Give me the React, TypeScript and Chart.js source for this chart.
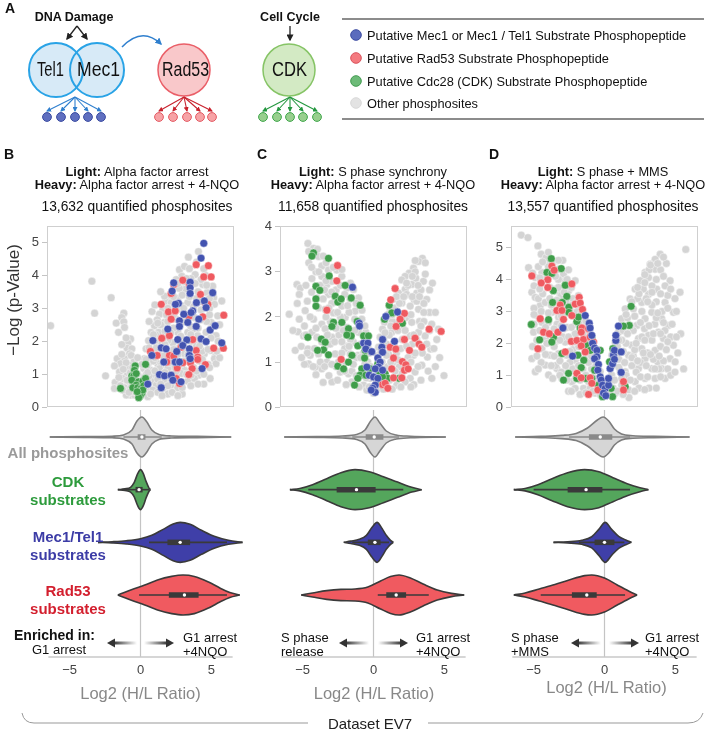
import React, { useEffect, useRef } from "react";
import { Chart, registerables } from "chart.js";
Chart.register(...registerables);

const FONT = "'Liberation Sans', Arial, Helvetica, sans-serif";

// ---------- shared axis data ----------
const X_TICKS = [-5, 0, 5];
const X_MIN = -6.5;
const X_MAX = 6.5;
const VIOLIN_LABELS = [["All phosphosites"], ["CDK", "substrates"], ["Mec1/Tel1", "substrates"], ["Rad53", "substrates"]];
const LEGEND_LABELS = [
  "Putative Mec1 or Mec1 / Tel1 Substrate Phosphopeptide",
  "Putative Rad53 Substrate Phosphopeptide",
  "Putative Cdc28 (CDK) Substrate Phosphopeptide",
  "Other phosphosites",
];

// ---------- Panel B volcano (x = log2 H/L, y = -log p) ----------
const B_GREY = [
  [-6.25, 2.47], [-3.38, 3.82], [-3.19, 2.85], [-2.04, 3.32], [-2.43, 0.95],
  [-1.16, 2.85], [-1.3, 2.72], [-1.69, 2.55], [-1.53, 2.27], [-1.16, 2.59], [-1.11, 2.42], [-0.69, 2.07], [-0.88, 1.95], [-0.93, 1.79], [-0.6, 1.77], [-0.76, 1.62], [-1.11, 1.47], [-1.62, 1.47], [-1.39, 1.32], [-1.81, 1.25], [-1.46, 1.07], [-0.99, 1.17], [-0.93, 0.97], [-1.23, 0.87], [-1.76, 0.75], [-0.88, 0.67], [-1.11, 0.59], [-1.81, 0.57], [-0.69, 0.37], [-0.42, 0.37],
  [4.03, 4.72], [3.33, 4.55], [2.71, 4.17], [2.87, 3.97], [3.8, 4.02], [2.48, 3.87], [4.33, 3.72], [3.06, 3.57], [2.08, 3.39], [1.78, 3.22], [5.09, 3.32], [5.65, 3.22], [5.14, 3.12], [4.21, 2.95], [2.94, 3.07], [1.55, 2.95], [1.32, 2.82], [1.16, 2.65], [0.97, 2.47], [1.67, 2.57], [2.48, 2.67], [3.7, 2.37], [4.56, 2.27], [5.25, 2.17], [0.74, 2.27], [1.25, 2.27], [0.56, 2.02], [1.2, 1.95], [2.25, 1.95], [3.87, 1.87], [4.91, 1.72], [0.39, 1.77], [0.97, 1.67], [1.55, 1.59], [3.06, 1.62], [4.44, 1.62], [5.19, 1.52], [0.28, 1.47], [0.62, 1.37], [1.2, 1.32], [2.25, 1.17], [3.06, 1.12], [4.84, 0.87], [4.03, 0.97], [0.23, 1.17], [0.69, 1.12], [0.97, 0.97], [0.39, 0.99], [0.74, 0.79], [1.09, 0.67], [0.51, 0.57], [0.86, 0.52], [0.28, 0.42], [0.51, 0.32], [1.78, 0.82], [2.13, 0.67], [1.55, 0.57], [2.59, 0.59], [3.29, 0.79], [3.75, 0.87], [5.14, 1.47], [5.25, 1.32], [-0.65, 1.57], [-0.46, 1.37], [-0.76, 1.27], [-0.88, 1.17], [-0.6, 0.72], [-0.46, 0.47], [-0.99, 0.37], [-0.69, 0.57], [-1.23, 0.52], [-0.93, 0.82],
  [1.67, 3.37], [2.13, 3.17], [2.59, 2.97], [3.29, 3.17], [3.75, 2.72], [2.59, 2.27], [3.29, 2.27], [1.9, 2.02], [3.98, 2.17], [2.48, 1.47], [1.44, 1.27], [1.9, 1.17], [2.87, 1.02], [3.52, 0.97], [1.32, 1.17], [3.06, 4.27], [4.21, 3.87], [5.02, 3.67], [4.63, 3.47], [5.37, 2.77], [4.91, 2.57],
  [0.0, 0.9], [0.1, 1.3], [-0.2, 1.5], [0.6, 2.6], [0.8, 2.9], [1.0, 3.1], [1.4, 3.5], [0.5, 0.8], [0.9, 1.4], [1.3, 2.0], [1.7, 2.3], [2.0, 2.7], [2.3, 2.4], [1.9, 1.5], [2.7, 1.8], [3.1, 2.0], [3.5, 1.4], [4.1, 1.4], [4.5, 2.0], [4.6, 2.6], [3.9, 3.3], [3.5, 3.9], [2.7, 3.6], [-0.2, 1.0], [0.2, 0.6], [1.2, 0.45], [1.9, 0.4], [2.4, 0.9], [1.0, 2.0],
  [0.6, 0.95], [0.45, 1.25], [0.8, 1.65], [1.05, 2.2], [1.4, 2.5], [1.8, 2.8], [2.2, 3.0], [2.6, 3.3], [3.0, 3.8], [3.4, 4.2], [3.9, 4.4], [4.5, 4.0], [4.8, 3.0], [5.4, 2.0], [4.3, 1.7], [4.7, 1.3], [3.7, 1.2], [3.3, 1.6], [2.8, 1.3], [2.2, 1.0], [1.6, 0.8], [1.2, 0.85], [2.9, 0.4], [4.4, 0.7], [-0.3, 0.6], [-0.5, 0.85], [-1.0, 2.1], [-1.3, 1.9],
];
const B_GREY_CORE = [
  [0.7, 0.4], [1.5, 0.35], [2.2, 0.45], [2.6, 0.35], [0.3, 0.75], [1.4, 0.7], [1.9, 0.65], [2.9, 0.6], [3.5, 0.65], [4.0, 0.7],
  [0.5, 1.05], [1.0, 1.1], [1.7, 1.05], [2.5, 1.1], [3.2, 1.0], [3.9, 1.1], [4.4, 1.0],
  [0.4, 1.45], [1.0, 1.5], [1.6, 1.55], [2.0, 1.35], [2.6, 1.6], [3.0, 1.4], [3.7, 1.5], [4.3, 1.45], [4.8, 1.2], [5.5, 1.5],
  [0.6, 1.8], [1.1, 1.8], [1.7, 1.9], [2.3, 1.75], [2.8, 1.95], [3.5, 2.0], [4.1, 1.85], [4.7, 1.75], [5.3, 1.7],
  [0.9, 2.2], [1.6, 2.1], [2.1, 2.25], [2.8, 2.15], [3.5, 2.2], [4.0, 2.4], [4.9, 2.1],
  [1.2, 2.55], [1.9, 2.6], [2.3, 2.8], [3.0, 2.6], [3.5, 2.45], [4.2, 2.65], [4.8, 2.8], [5.5, 2.5],
  [1.9, 3.0], [2.4, 3.1], [3.0, 3.0], [3.7, 3.05], [4.2, 3.2], [4.8, 3.3],
  [2.3, 3.35], [2.9, 3.4], [3.4, 3.35], [4.0, 3.5], [4.6, 3.7], [2.6, 3.75], [3.2, 3.9], [3.8, 3.75], [4.4, 4.2],
  [-1.3, 1.6], [-1.0, 1.35], [-0.7, 1.05], [-0.4, 0.75], [-1.5, 0.9], [-1.2, 1.15], [-0.8, 0.45], [-1.4, 0.65], [-0.55, 1.2], [-0.3, 0.95],
];
const B_BLUE = [
  [4.4, 4.97], [4.21, 4.52], [2.31, 3.77], [3.45, 3.79], [2.2, 3.52], [3.45, 3.62], [3.45, 3.45], [5.02, 3.47], [2.64, 3.15], [2.43, 3.12], [3.89, 3.17], [4.44, 3.22], [4.56, 3.02], [3.63, 2.92], [3.01, 2.82], [3.52, 2.87], [2.71, 2.62], [3.29, 2.57], [4.05, 2.67], [3.87, 2.45], [2.71, 2.45], [1.9, 2.37], [4.84, 2.34], [5.19, 2.47], [0.86, 2.02], [2.59, 2.05], [3.22, 2.04], [4.21, 2.07], [4.56, 1.99], [5.65, 1.95], [1.44, 1.8], [1.78, 1.77], [2.94, 1.87], [2.52, 1.69], [3.4, 1.77], [0.79, 1.57], [2.41, 1.37], [1.62, 1.37], [3.4, 1.57], [3.45, 1.47], [2.71, 1.37], [4.28, 1.17], [1.32, 0.99], [1.67, 0.95], [2.13, 0.97], [2.25, 0.82], [2.82, 0.77], [1.44, 0.59], [0.51, 0.7],
];
const B_RED = [
  [3.87, 4.32], [4.72, 4.29], [4.4, 3.95], [4.91, 3.95], [2.31, 3.72], [2.94, 3.85], [3.4, 3.72], [2.13, 3.45], [4.17, 3.42], [4.51, 3.17], [1.44, 3.12], [4.68, 3.12], [1.94, 2.89], [2.41, 2.92], [5.79, 2.79], [3.36, 2.75], [4.33, 2.74], [2.13, 2.67], [1.48, 2.09], [2.01, 2.17], [3.63, 2.05], [0.69, 1.69], [1.16, 1.57], [2.82, 1.82], [3.87, 1.72], [5.09, 1.79], [5.76, 1.79], [2.01, 1.57], [3.98, 1.52], [2.31, 1.55], [1.83, 1.37], [2.94, 1.35], [3.47, 1.35], [3.59, 1.17], [3.98, 1.45], [4.51, 1.29], [2.55, 1.19], [3.36, 0.99], [2.71, 0.72], [2.48, 0.87],
];
const B_GREEN = [
  [-0.37, 1.25], [-0.42, 1.12], [0.35, 1.3], [-0.6, 0.95], [-0.46, 0.95], [-0.3, 1.02], [-0.6, 0.82], [-0.14, 0.77], [0.16, 0.79], [0.35, 0.87], [-0.3, 0.67], [-0.53, 0.59], [-0.19, 0.59], [0.05, 0.57], [0.23, 0.65], [-1.39, 0.57], [-0.07, 0.47], [0.09, 0.42], [-0.02, 0.35], [-0.12, 0.29], [0.16, 0.52], [-0.23, 0.47],
];

// ---------- Panel C volcano ----------
const C_GREY = [
  [-4.56, 3.63], [-4.17, 3.52], [-3.82, 3.34], [-3.59, 3.13], [-3.13, 3.04], [-5.32, 2.72], [-5.09, 2.64], [-5.16, 2.5], [-4.28, 2.85], [-3.59, 2.9], [-3.24, 2.72], [-2.89, 2.79], [-2.55, 3.04], [-2.2, 2.9], [-1.85, 2.64], [-5.86, 2.06], [-5.16, 1.95], [-5.25, 1.67], [-4.86, 1.58], [-5.44, 1.26], [-5.02, 1.35], [-4.51, 0.96], [-4.0, 0.72], [-4.28, 1.66], [-4.56, 1.29], [-3.82, 2.2], [-3.36, 2.17], [-4.17, 1.95], [-3.59, 1.84], [-3.94, 1.55], [-3.36, 1.74], [-2.89, 1.55], [-2.78, 2.09], [-2.2, 2.24], [-1.97, 1.99], [-2.43, 1.77], [-1.85, 1.77], [-1.27, 2.13], [-1.62, 2.39], [-1.04, 2.42], [-1.39, 2.61], [-0.81, 1.95], [-1.04, 1.66], [-0.53, 1.66], [-1.39, 1.44], [-1.97, 1.36], [-2.66, 1.18], [-3.24, 1.0], [-3.59, 0.85], [-2.89, 0.56], [-2.31, 0.78], [-1.97, 1.0], [-1.62, 1.18], [-1.09, 1.15], [-1.74, 0.74], [-1.5, 0.56], [-0.93, 0.71], [-0.69, 0.49], [-0.46, 0.38], [-0.81, 0.85], [-0.23, 0.64], [-3.36, 1.36], [-3.82, 1.18], [-4.4, 1.15], [-4.05, 0.89], [-2.43, 1.0], [-1.97, 1.62], [-2.66, 2.39], [-3.13, 2.5], [-3.94, 2.42], [-4.75, 2.14],
  [3.4, 3.3], [3.13, 3.23], [2.78, 3.08], [2.48, 2.97], [2.2, 2.9], [1.97, 2.82], [2.94, 2.86], [3.47, 2.79], [2.66, 2.72], [2.2, 2.61], [1.74, 2.53], [1.39, 2.39], [1.16, 2.2], [1.04, 2.06], [0.76, 1.88], [0.63, 1.73], [0.46, 1.55], [0.35, 1.33], [0.3, 1.15], [3.01, 2.53], [3.7, 2.39], [2.85, 2.36], [2.55, 2.24], [3.13, 2.17], [2.31, 1.99], [2.66, 1.88], [4.05, 1.84], [4.51, 1.73], [3.59, 1.58], [3.13, 1.66], [2.55, 1.58], [3.98, 1.29], [3.75, 1.11], [3.36, 0.93], [2.89, 0.78], [2.55, 0.64], [4.05, 0.64], [1.5, 1.88], [1.27, 1.66], [1.04, 1.18], [1.39, 1.0], [0.81, 0.85], [0.58, 0.64], [0.35, 0.42], [0.0, 0.31], [1.97, 0.74], [1.62, 0.49], [2.2, 0.56], [2.78, 1.15], [1.74, 2.09], [1.97, 2.31],
  [-2.0, 1.3], [-1.6, 1.5], [-2.4, 1.6], [-3.0, 1.9], [-2.6, 2.6], [-3.7, 2.7], [-1.2, 1.1], [-1.5, 0.8], [-0.7, 1.2], [-0.4, 1.0], [-0.5, 0.65], [0.2, 0.55], [0.6, 1.0], [0.9, 1.4], [1.6, 1.2], [2.0, 1.5], [2.4, 1.1], [1.8, 0.9], [2.7, 1.4], [3.2, 1.9], [2.3, 2.5], [1.5, 2.2], [3.5, 2.3], [2.0, 1.8],
  [-4.5, 3.2], [-4.0, 3.0], [-3.4, 2.6], [-2.9, 2.3], [-3.3, 2.0], [-4.4, 2.0], [-4.8, 1.8], [-4.6, 1.2], [-3.7, 1.0], [-3.0, 1.4], [-2.6, 0.9], [-2.2, 1.2], [-1.3, 1.7], [-0.9, 1.4], [-0.3, 1.2], [-0.2, 0.9], [-1.2, 0.7], [-1.9, 0.5], [-3.1, 0.7], [-2.3, 2.0], [-1.7, 2.1], [-2.0, 2.5], [-1.2, 2.3],
  [0.7, 1.5], [1.1, 1.6], [1.3, 1.9], [1.8, 2.3], [2.4, 2.7], [2.9, 3.0], [3.3, 2.6], [3.9, 2.1], [3.5, 1.9], [4.2, 1.3], [3.4, 1.2], [2.9, 1.2], [2.3, 0.9], [1.5, 0.8], [1.0, 0.9], [0.7, 0.4], [1.3, 0.4], [2.8, 0.5], [3.8, 0.8], [4.6, 1.1], [4.9, 0.7], [0.5, 0.8],
];
const C_GREY_CORE = [
  [-3.5, 0.55], [-2.5, 0.6], [-1.0, 0.45], [-0.3, 0.45], [-4.8, 0.95], [-4.2, 0.9], [-3.4, 0.9], [-2.9, 0.95], [-2.0, 0.8], [-1.4, 0.95], [-0.6, 0.95],
  [-5.0, 1.1], [-4.1, 1.3], [-3.6, 1.45], [-2.7, 1.45], [-2.2, 1.45], [-1.7, 1.35], [-0.9, 1.1], [-0.4, 1.35],
  [-5.6, 1.7], [-4.7, 1.6], [-4.0, 1.75], [-3.2, 1.6], [-2.6, 1.75], [-2.1, 1.7], [-1.3, 1.95], [-0.6, 1.8],
  [-5.3, 2.3], [-4.6, 2.35], [-3.5, 2.4], [-3.1, 2.2], [-2.5, 2.1], [-1.8, 2.25], [-0.8, 2.15],
  [-4.7, 2.7], [-4.3, 2.55], [-3.3, 2.8], [-2.9, 2.55], [-2.3, 2.7], [-1.6, 2.75],
  [-4.3, 3.1], [-3.8, 3.0], [-3.3, 3.2], [-2.8, 3.1], [-2.2, 3.05], [-4.5, 3.45], [-3.9, 3.5], [-3.5, 3.35],
  [0.4, 0.6], [1.1, 0.6], [1.9, 0.45], [2.6, 0.45], [3.3, 0.6], [0.6, 0.8], [1.2, 1.0], [1.7, 1.05], [2.1, 1.0], [2.6, 1.0], [3.1, 0.9], [4.3, 0.9],
  [0.5, 1.2], [0.9, 1.15], [1.4, 1.4], [1.9, 1.3], [2.3, 1.35], [3.0, 1.5], [3.7, 1.4], [4.4, 1.5],
  [0.8, 1.65], [1.2, 1.8], [1.7, 1.7], [2.2, 1.7], [2.8, 1.6], [3.3, 1.8], [3.9, 1.7],
  [1.3, 2.05], [2.0, 2.0], [2.6, 2.05], [3.0, 2.35], [3.5, 2.1], [4.3, 2.1],
  [1.6, 2.45], [2.1, 2.45], [2.7, 2.45], [3.2, 2.45], [3.9, 2.6], [2.3, 2.75], [2.7, 2.9], [3.1, 2.7], [3.6, 2.95], [4.1, 2.75], [2.9, 3.25], [3.6, 3.2],
];
const C_GREEN = [
  [-4.17, 3.42], [-4.28, 3.35], [-3.13, 3.3], [-3.08, 2.91], [-4.0, 2.68], [-3.73, 2.59], [-1.97, 2.7], [-2.66, 2.46], [-4.0, 2.4], [-2.48, 2.33], [-2.25, 2.4], [-4.0, 2.24], [-0.93, 2.26], [-1.55, 2.42], [-2.78, 1.88], [-2.2, 1.88], [-1.74, 1.74], [-2.89, 1.79], [-1.13, 1.9], [-1.55, 1.58], [-1.85, 1.6], [-4.56, 1.55], [-3.63, 1.51], [-3.36, 1.44], [-0.69, 1.58], [-0.35, 1.58], [-3.47, 1.27], [-3.89, 1.26], [-3.13, 1.16], [-1.09, 1.36], [-0.58, 1.26], [-1.5, 1.15], [-0.62, 1.09], [-1.74, 1.0], [-2.48, 0.91], [-2.08, 0.85], [-0.81, 0.85], [-0.93, 0.71], [-1.09, 0.64], [-0.23, 0.85], [-0.53, 0.71], [-1.32, 0.49], [0.39, 0.8], [0.81, 0.74], [0.3, 0.96], [1.09, 2.26], [0.76, 1.95], [1.27, 2.09], [2.01, 1.86], [1.0, 0.64], [1.78, 0.64], [0.46, 0.53], [0.63, 0.67],
];
const C_BLUE = [
  [-1.46, 2.66], [-1.0, 1.86], [-0.97, 1.8], [0.86, 2.01], [1.67, 2.11], [0.63, 1.5], [1.46, 1.46], [-0.69, 1.42], [-0.39, 1.42], [-0.53, 1.29], [-0.12, 1.23], [0.58, 1.33], [0.63, 1.22], [0.3, 1.09], [0.46, 1.0], [0.35, 0.89], [-0.46, 0.89], [0.12, 0.85], [0.63, 0.82], [-0.3, 0.71], [0.0, 0.67], [0.3, 0.64], [0.12, 0.49], [-0.05, 0.42], [0.12, 0.33], [-0.16, 0.38],
];
const C_RED = [
  [-2.5, 3.14], [-2.55, 2.8], [-3.24, 2.15], [-2.25, 1.06], [1.5, 2.63], [1.2, 2.38], [2.15, 2.08], [1.85, 1.95], [1.57, 1.79], [3.87, 1.73], [4.7, 1.68], [2.15, 1.5], [2.89, 1.53], [3.17, 1.4], [3.36, 1.33], [1.16, 1.33], [1.55, 1.29], [2.5, 1.26], [1.39, 1.09], [2.01, 1.01], [2.25, 0.94], [2.15, 0.82], [2.41, 0.85], [1.27, 0.85], [1.39, 0.65], [1.97, 0.65], [0.63, 0.5], [0.81, 0.53], [1.0, 0.42],
];

// ---------- Panel D volcano ----------
const D_GREY = [
  [-5.79, 5.39], [-5.32, 5.31], [-4.63, 5.05], [-4.4, 4.79], [-4.07, 4.68], [-3.77, 4.53], [-3.43, 4.58], [-5.28, 4.37], [-4.81, 4.06], [-4.35, 4.22], [-3.19, 4.32], [-2.85, 4.17], [-2.73, 3.96], [-5.05, 3.6], [-4.81, 3.44], [-4.47, 3.18], [-4.12, 3.28], [-3.43, 3.7], [-3.08, 3.54], [-2.5, 3.65], [-2.27, 3.28], [-4.93, 2.35], [-4.7, 2.87], [-4.35, 2.66], [-3.19, 2.82], [-4.12, 2.15], [-3.43, 2.04], [-5.05, 1.52], [-4.81, 1.11], [-4.12, 1.32], [-3.89, 1.01], [-3.31, 1.21], [-2.96, 0.9], [-2.5, 1.21], [-2.04, 1.47], [-2.62, 1.63], [-3.19, 1.68], [-3.77, 1.63], [-4.35, 1.83], [-2.27, 0.8], [-1.69, 0.85], [-1.46, 0.59], [-1.0, 0.59], [-0.65, 0.44], [-2.04, 0.59], [-2.73, 2.04], [-2.04, 2.3], [-1.81, 2.77], [-1.46, 2.92], [-1.11, 2.35], [-0.88, 2.04], [-0.53, 1.63], [-0.3, 1.11], [-0.19, 0.8], [-3.66, 2.97], [-3.89, 2.66], [-2.85, 2.46], [-2.38, 3.03], [-2.04, 3.96], [-1.81, 3.49],
  [5.65, 4.94], [3.87, 4.79], [3.52, 4.63], [3.17, 4.48], [2.82, 4.22], [2.48, 3.96], [2.13, 3.7], [1.78, 3.39], [1.44, 3.08], [1.2, 2.77], [0.97, 2.35], [0.74, 2.04], [0.51, 1.63], [0.39, 1.21], [0.28, 0.8], [3.52, 4.32], [3.06, 4.06], [4.56, 3.96], [4.21, 3.8], [5.25, 3.6], [3.63, 3.7], [3.06, 3.54], [2.59, 3.28], [4.21, 3.28], [3.29, 2.97], [4.79, 2.97], [3.98, 2.77], [2.82, 2.77], [2.25, 2.56], [4.44, 2.56], [3.75, 2.35], [3.06, 2.25], [2.36, 2.15], [4.1, 2.15], [4.79, 1.94], [3.52, 1.78], [2.59, 1.83], [1.9, 1.94], [1.67, 1.63], [2.82, 1.52], [4.56, 1.52], [4.91, 1.42], [3.98, 1.21], [3.29, 1.21], [2.36, 1.21], [1.44, 1.11], [2.82, 0.9], [2.13, 0.8], [1.2, 0.69], [1.67, 0.54], [0.74, 0.44], [2.78, 2.46], [2.01, 3.08], [3.7, 1.42], [3.52, 0.9], [4.21, 0.9],
  [-3.0, 3.5], [-2.6, 2.5], [-3.5, 1.9], [-2.2, 1.8], [-1.5, 1.2], [-1.1, 0.8], [-0.6, 0.8], [-4.0, 2.0], [-3.4, 1.3], [-2.0, 2.6], [-1.3, 2.5], [1.0, 1.5], [1.5, 2.0], [2.0, 2.4], [2.5, 1.4], [3.0, 1.7], [3.5, 2.6], [4.0, 3.0], [2.9, 3.4], [3.3, 3.8], [1.5, 1.0], [2.2, 1.1], [3.8, 1.2], [1.1, 1.1], [0.6, 0.6],
  [0.5, 1.0], [0.9, 1.9], [1.3, 2.4], [1.6, 2.8], [2.3, 3.4], [2.7, 3.7], [3.1, 4.3], [3.9, 4.3], [4.3, 4.5], [3.6, 3.3], [4.4, 3.5], [4.9, 3.4], [2.6, 2.2], [3.3, 2.1], [3.9, 1.9], [4.2, 2.4], [4.6, 2.2], [2.0, 1.6], [2.4, 0.6], [3.1, 0.6], [1.9, 1.3], [3.4, 1.5], [4.4, 1.2], [5.3, 2.3], [5.5, 1.2], [1.2, 2.1], [0.9, 0.5], [1.7, 0.3],
  [-4.6, 4.4], [-4.2, 4.0], [-3.8, 3.4], [-3.3, 2.6], [-4.5, 2.4], [-2.9, 2.2], [-2.4, 1.4], [-1.8, 1.9], [-3.0, 1.1], [-4.4, 1.4], [-2.5, 0.5], [-1.3, 1.5], [-0.9, 1.2], [-0.6, 1.3], [-5.0, 1.9], [-4.9, 3.1], [-3.2, 4.0], [-2.7, 3.3], [-1.9, 3.0], [-1.7, 3.2], [-2.5, 4.3], [-2.9, 4.6], [-2.0, 0.9], [-1.7, 0.4], [-0.3, 0.4],
];
const D_GREY_CORE = [
  [-2.3, 0.5], [-1.3, 0.45], [-0.8, 0.5], [-3.6, 0.9], [-3.1, 1.0], [-2.6, 0.85], [-1.3, 1.0], [-0.8, 0.95], [-0.5, 0.7],
  [-4.6, 1.2], [-3.7, 1.3], [-3.1, 1.45], [-2.7, 1.3], [-2.2, 1.2], [-1.8, 1.3], [-1.1, 1.4], [-0.7, 1.5],
  [-4.7, 1.6], [-4.1, 1.65], [-3.5, 1.6], [-2.9, 1.7], [-2.4, 1.75], [-1.9, 1.6], [-1.2, 1.9], [-0.9, 1.6],
  [-4.7, 2.1], [-4.0, 2.3], [-3.1, 2.1], [-2.5, 2.2], [-2.1, 2.05], [-1.5, 2.3], [-1.1, 2.05],
  [-4.9, 2.6], [-4.1, 2.5], [-3.5, 2.45], [-3.0, 2.55], [-2.3, 2.5], [-1.7, 2.6], [-1.3, 2.7],
  [-4.9, 2.9], [-4.4, 3.0], [-3.9, 2.95], [-3.0, 2.85], [-2.6, 2.95], [-1.9, 2.8], [-1.6, 2.95],
  [-4.6, 3.4], [-4.3, 3.55], [-3.7, 3.2], [-3.3, 3.35], [-2.9, 3.2], [-2.2, 3.4], [-1.9, 3.3],
  [-4.9, 3.8], [-4.5, 3.7], [-3.8, 3.75], [-3.2, 3.75], [-2.8, 3.6], [-2.3, 3.75],
  [-5.0, 4.2], [-4.5, 4.05], [-3.9, 4.4], [-3.4, 4.1], [-2.6, 4.0], [-4.3, 4.55], [-3.9, 4.85], [-3.2, 4.6],
  [0.4, 0.5], [1.3, 0.4], [2.1, 0.5], [2.8, 0.55], [3.6, 0.6], [0.7, 0.85], [1.2, 0.9], [1.8, 0.85], [2.5, 0.95], [3.0, 0.95], [3.9, 0.95], [4.6, 1.0],
  [0.6, 1.3], [1.0, 1.25], [1.4, 1.4], [1.9, 1.55], [2.3, 1.45], [2.9, 1.3], [3.5, 1.2], [4.1, 1.45], [4.9, 1.1],
  [0.8, 1.7], [1.3, 1.75], [2.1, 1.8], [2.7, 1.7], [3.2, 1.65], [3.8, 1.6], [4.3, 1.8], [5.1, 1.7],
  [1.0, 2.1], [1.6, 2.3], [2.2, 2.0], [2.8, 2.1], [3.4, 2.3], [3.9, 2.3], [4.4, 2.05], [5.0, 2.2],
  [1.2, 2.55], [1.8, 2.55], [2.5, 2.65], [3.1, 2.55], [3.6, 2.8], [4.1, 2.65], [4.7, 2.6],
  [1.5, 2.9], [2.1, 2.85], [2.6, 3.0], [3.3, 3.2], [3.7, 2.95], [4.4, 3.1], [5.0, 3.0],
  [1.9, 3.3], [2.4, 3.55], [3.0, 3.3], [3.9, 3.55], [4.6, 3.7], [2.3, 3.75], [2.8, 3.9], [3.3, 3.6], [3.6, 4.0], [4.1, 4.1],
  [2.8, 4.15], [3.2, 4.45], [3.7, 4.5], [4.1, 4.7],
];
const D_GREEN = [
  [-3.7, 4.65], [-3.01, 4.34], [-4.0, 4.22], [-3.66, 4.19], [-2.73, 3.82], [-3.56, 3.65], [-2.62, 3.47], [-3.61, 3.28], [-2.94, 3.28], [-2.48, 3.13], [-2.48, 2.97], [-5.09, 2.59], [-3.89, 2.74], [-1.92, 2.68], [-1.81, 2.82], [-1.69, 2.48], [-3.54, 2.2], [-4.51, 2.11], [-3.66, 2.04], [-0.88, 2.15], [-1.3, 1.94], [-2.96, 1.68], [-1.85, 1.63], [-1.44, 1.47], [-0.99, 1.78], [-0.3, 1.78], [-1.62, 1.24], [-2.5, 1.06], [-1.92, 0.9], [-2.85, 0.85], [-1.3, 0.9], [-0.69, 1.16], [-0.88, 0.9], [-0.42, 0.69], [-0.14, 0.33], [0.56, 0.33], [0.46, 0.59], [1.85, 3.16], [1.72, 2.56], [1.32, 2.54], [0.58, 1.83], [1.44, 0.64], [0.35, 1.42],
];
const D_RED = [
  [-5.05, 4.11], [-3.66, 4.42], [-3.5, 4.29], [-3.94, 3.99], [-4.4, 3.89], [-3.94, 3.75], [-2.27, 3.86], [-1.76, 3.44], [-3.08, 3.2], [-3.31, 3.03], [-2.96, 3.03], [-2.04, 3.23], [-1.69, 3.26], [-1.53, 3.06], [-4.47, 2.77], [-2.85, 2.75], [-2.27, 2.87], [-4.24, 2.35], [-3.84, 2.3], [-3.24, 2.35], [-1.57, 2.48], [-1.62, 2.35], [-1.11, 2.46], [-4.63, 1.83], [-2.31, 2.06], [-1.92, 2.09], [-1.46, 2.12], [-1.0, 2.2], [-0.76, 2.04], [-1.62, 1.92], [-1.34, 1.73], [-2.73, 1.73], [-1.92, 1.06], [-1.62, 0.92], [-1.0, 0.92], [-0.88, 0.75], [-1.11, 0.4], [-0.46, 0.54], [1.32, 0.8], [1.32, 0.54],
];
const D_BLUE = [
  [-1.34, 2.87], [-1.06, 2.63], [-1.0, 2.48], [-2.89, 2.48], [-0.88, 2.25], [-0.83, 2.0], [-0.69, 1.85], [-0.53, 1.78], [-2.22, 1.6], [-0.53, 1.58], [-0.69, 1.52], [-0.42, 1.34], [-0.46, 1.16], [-0.3, 0.95], [-0.23, 0.85], [-0.14, 0.69], [0.05, 0.59], [-0.07, 0.44], [0.09, 0.36], [0.28, 0.69], [0.28, 0.9], [0.39, 1.21], [0.56, 1.36], [0.62, 1.63], [0.69, 1.78], [0.79, 2.09], [0.79, 2.25], [0.97, 2.54], [1.16, 1.73], [1.16, 1.09], [0.69, 1.5],
];

// ---------- Violin outlines: [log2 ratio, relative half-width] ----------
const B_ALL_V = [[-6.4, 0], [-4, 0.02], [-2, 0.04], [-1.2, 0.1], [-0.6, 0.35], [-0.25, 0.8], [0.1, 1], [0.45, 0.75], [0.8, 0.35], [1.3, 0.12], [2.2, 0.05], [4, 0.03], [6.4, 0]];
const B_CDK_V = [[-1.6, 0], [-1.1, 0.04], [-0.7, 0.12], [-0.45, 0.35], [-0.2, 0.8], [0, 1], [0.2, 0.8], [0.4, 0.4], [0.6, 0.08], [0.7, 0]];
const B_MEC_V = [[-3, 0], [-2, 0.03], [-1, 0.08], [0, 0.18], [0.8, 0.35], [1.6, 0.65], [2.3, 0.92], [2.8, 1], [3.5, 0.9], [4.3, 0.6], [5.2, 0.3], [6.2, 0.1], [7.2, 0]];
const B_RAD_V = [[-1.6, 0], [-1.1, 0.14], [-0.5, 0.3], [0.3, 0.5], [1.2, 0.75], [2.2, 0.93], [3, 1], [3.8, 0.93], [4.8, 0.65], [5.6, 0.35], [6.3, 0.12], [7, 0]];
const C_ALL_V = [[-6.3, 0], [-4, 0.02], [-2.2, 0.05], [-1.2, 0.12], [-0.6, 0.35], [-0.2, 0.8], [0.1, 1], [0.45, 0.7], [0.9, 0.3], [1.6, 0.1], [2.6, 0.04], [5.1, 0]];
const C_CDK_V = [[-5.9, 0], [-5.2, 0.06], [-4.3, 0.25], [-3.3, 0.55], [-2.3, 0.85], [-1.3, 1], [-0.3, 0.9], [0.7, 0.65], [1.7, 0.38], [2.7, 0.12], [3.4, 0]];
const C_MEC_V = [[-2.1, 0], [-1.6, 0.06], [-1, 0.15], [-0.5, 0.35], [-0.1, 0.75], [0.25, 1], [0.6, 0.7], [0.9, 0.35], [1.2, 0.1], [1.4, 0]];
const C_RAD_V = [[-5.1, 0], [-4.3, 0.1], [-3.3, 0.22], [-2.3, 0.28], [-1.3, 0.3], [-0.4, 0.4], [0.5, 0.7], [1.2, 0.92], [1.8, 1], [2.6, 0.85], [3.5, 0.55], [4.5, 0.25], [5.5, 0.08], [6.4, 0]];
const D_ALL_V = [[-6.3, 0], [-4.5, 0.03], [-3, 0.08], [-2, 0.18], [-1.2, 0.45], [-0.5, 0.85], [-0.1, 1], [0.3, 0.8], [0.7, 0.4], [1.2, 0.15], [2, 0.06], [3.5, 0.03], [6, 0]];
const D_CDK_V = [[-6.4, 0], [-5.6, 0.06], [-4.7, 0.25], [-3.7, 0.55], [-2.6, 0.85], [-1.4, 1], [-0.4, 0.9], [0.6, 0.6], [1.6, 0.3], [2.5, 0.1], [3.1, 0]];
const D_MEC_V = [[-3.6, 0], [-2.6, 0.03], [-1.6, 0.1], [-0.9, 0.28], [-0.4, 0.65], [0.05, 1], [0.5, 0.65], [1, 0.3], [1.5, 0.12], [1.9, 0]];
const D_RAD_V = [[-6.4, 0], [-5.6, 0.1], [-4.6, 0.3], [-3.5, 0.52], [-2.5, 0.75], [-1.4, 0.97], [-0.9, 1], [0, 0.85], [0.9, 0.5], [1.7, 0.2], [2.3, 0]];

// ---------- Inner box plots: [whisker low, Q1, median, Q3, whisker high] ----------
const B_BOX = [[-1.2, -0.2, 0.1, 0.35, 1.5], [-1.3, -0.35, -0.1, 0.15, 0.6], [0.6, 1.9, 2.8, 3.5, 6.1], [-0.1, 2.0, 3.1, 4.1, 6.1]];
const C_BOX = [[-1.5, -0.55, 0.05, 0.7, 1.8], [-4.6, -2.6, -1.2, 0.15, 2.1], [-1.5, -0.4, 0.1, 0.5, 1.1], [0.3, 0.9, 1.6, 2.3, 3.9]];
const D_BOX = [[-2.5, -1.1, -0.3, 0.55, 1.8], [-5.0, -2.6, -1.3, -0.15, 1.8], [-1.8, -0.7, 0.0, 0.7, 1.4], [-4.5, -2.3, -1.25, -0.55, 1.45]];

// ---------- styling / layout ----------
const PT = { grey: "#d4d4d4", blue: "#4353b0", red: "#ef5a60", green: "#3f9d4a" };
const VSTYLE = [
  { fill: "#d6d6d6", line: "#7d7d7d", box: "#8a8a8a", label: "#9a9a9a" },
  { fill: "#54a65c", line: "#3a3a3a", box: "#3a3a3a", label: "#2d9b3c" },
  { fill: "#3f3fa8", line: "#3a3a3a", box: "#3a3a3a", label: "#3c3ca6" },
  { fill: "#f05a60", line: "#3a3a3a", box: "#3a3a3a", label: "#d31f2e" },
];
const BOX_W = 187;
const UNIT = BOX_W / (X_MAX - X_MIN);
const V_PAD = 22;
const XR = X_MAX + V_PAD / UNIT;
const V_TOP = 410, V_BOTTOM = 657, V_C0 = 437, V_STEP = 52.667;
const V_MIN = -(V_C0 - V_TOP) / V_STEP;
const V_MAX = (V_BOTTOM - V_C0) / V_STEP;
const HW = 20 / V_STEP;

const PANELS = [
  { id: "B", left: 47, yMax: 5.5, yTicks: [0, 1, 2, 3, 4, 5], grey: [...B_GREY, ...B_GREY_CORE], green: B_GREEN, red: B_RED, blue: B_BLUE, violins: [B_ALL_V, B_CDK_V, B_MEC_V, B_RAD_V], boxes: B_BOX },
  { id: "C", left: 280, yMax: 4.02, yTicks: [0, 1, 2, 3, 4], grey: [...C_GREY, ...C_GREY_CORE], green: C_GREEN, red: C_RED, blue: C_BLUE, violins: [C_ALL_V, C_CDK_V, C_MEC_V, C_RAD_V], boxes: C_BOX },
  { id: "D", left: 511, yMax: 5.68, yTicks: [0, 1, 2, 3, 4, 5], grey: [...D_GREY, ...D_GREY_CORE], green: D_GREEN, red: D_RED, blue: D_BLUE, violins: [D_ALL_V, D_CDK_V, D_MEC_V, D_RAD_V], boxes: D_BOX },
];

const toXY = (a: number[][]) => a.map((p) => ({ x: p[0], y: p[1] }));
const fmt = (v: number) => (v < 0 ? "\u2212" + Math.abs(v) : String(v));

const boxPlugin = {
  id: "boxFrame",
  afterDraw(chart: any) {
    const { ctx, chartArea: a } = chart;
    ctx.save();
    ctx.strokeStyle = "#cfcfcf";
    ctx.lineWidth = 1;
    ctx.strokeRect(Math.round(a.left) + 0.5, Math.round(a.top) + 0.5, Math.round(a.right - a.left) - 1, Math.round(a.bottom - a.top) - 1);
    ctx.restore();
  },
};

function makeVolcano(canvas: HTMLCanvasElement, p: any) {
  const common = { pointRadius: 3.9, pointHoverRadius: 3.9, pointBorderWidth: 0.6, pointBorderColor: "rgba(255,255,255,0.7)" };
  return new Chart(canvas, {
    type: "scatter",
    data: {
      datasets: [
        { data: toXY(p.grey), backgroundColor: PT.grey, order: 4, ...common },
        { data: toXY(p.green), backgroundColor: PT.green, order: 3, ...common },
        { data: toXY(p.red), backgroundColor: PT.red, order: 2, ...common },
        { data: toXY(p.blue), backgroundColor: PT.blue, order: 1, ...common },
      ],
    },
    options: {
      animation: false,
      responsive: false,
      maintainAspectRatio: false,
      layout: { padding: { top: 10, bottom: 10, left: 0, right: 10 } },
      plugins: { legend: { display: false }, tooltip: { enabled: false } },
      scales: {
        x: { type: "linear", min: X_MIN, max: X_MAX, display: false },
        y: {
          type: "linear",
          min: 0,
          max: p.yMax,
          afterFit: (s: any) => { s.width = 32; },
          afterBuildTicks: (s: any) => { s.ticks = p.yTicks.map((v: number) => ({ value: v })); },
          ticks: { font: { family: FONT, size: 13 }, color: "#444", padding: 3, callback: (v: any) => fmt(Number(v)) },
          grid: { drawOnChartArea: false, drawTicks: true, tickLength: 5, color: "#c4c4c4" },
          border: { display: false },
        },
      },
    } as any,
    plugins: [boxPlugin],
  });
}

function makeViolin(canvas: HTMLCanvasElement, p: any) {
  const ds: any[] = [];
  const line = { pointRadius: 0, pointHoverRadius: 0, clip: false, fill: false };
  ds.push({ ...line, data: [{ x: 0, y: V_MIN }, { x: 0, y: V_MAX }], borderColor: "#c4c4c4", borderWidth: 1.2, order: 100 });
  ds.push({ ...line, data: [{ x: X_MIN, y: V_MAX }, { x: X_MAX, y: V_MAX }], borderColor: "#c8c8c8", borderWidth: 1.6, order: 99 });
  p.violins.forEach((shape: number[][], i: number) => {
    const st = VSTYLE[i];
    ds.push({ ...line, data: shape.map((s) => ({ x: s[0], y: i - s[1] * HW })), borderColor: st.line, borderWidth: 1.6, cubicInterpolationMode: "monotone", order: 60 - i });
    ds.push({ ...line, data: shape.map((s) => ({ x: s[0], y: i + s[1] * HW })), borderColor: st.line, borderWidth: 1.6, cubicInterpolationMode: "monotone", fill: "-1", backgroundColor: st.fill, order: 60 - i });
    const b = p.boxes[i];
    ds.push({ ...line, data: [{ x: b[0], y: i }, { x: b[4], y: i }], borderColor: st.box, borderWidth: 1.6, order: 20 });
    ds.push({ ...line, data: [{ x: b[1], y: i }, { x: b[3], y: i }], borderColor: st.box, borderWidth: 5.5, order: 19 });
    ds.push({ data: [{ x: b[2], y: i }], showLine: false, pointRadius: 1.7, pointHoverRadius: 1.7, pointBackgroundColor: "#ffffff", pointBorderWidth: 0, clip: false, order: 5 });
  });
  return new Chart(canvas, {
    type: "line",
    data: { datasets: ds },
    options: {
      animation: false,
      responsive: false,
      maintainAspectRatio: false,
      layout: { padding: { top: 10, bottom: 0, left: 0, right: 0 } },
      plugins: { legend: { display: false }, tooltip: { enabled: false } },
      elements: { point: { radius: 0 } },
      scales: {
        x: {
          type: "linear",
          min: -XR,
          max: XR,
          afterFit: (s: any) => { s.height = 24; },
          afterBuildTicks: (s: any) => { s.ticks = X_TICKS.map((v) => ({ value: v })); },
          ticks: { font: { family: FONT, size: 13 }, color: "#444", padding: 6, maxRotation: 0, callback: (v: any) => fmt(Number(v)) },
          grid: { display: false, drawTicks: false },
          border: { display: false },
        },
        y: { type: "linear", min: V_MIN, max: V_MAX, reverse: true, display: false },
      },
    } as any,
  });
}

const HEADERS = [
  { cx: 137, light: "Alpha factor arrest", count: "13,632 quantified phosphosites" },
  { cx: 373, light: "S phase synchrony", count: "11,658 quantified phosphosites" },
  { cx: 603, light: "S phase + MMS", count: "13,557 quantified phosphosites" },
];
const HEAVY_TEXT = "Alpha factor arrest + 4-NQO";
const ENRICH = [
  { l1: "G1 arrest", l2: "", lx: 32, lt: 107, rt: 174, rx: 183 },
  { l1: "S phase", l2: "release", lx: 281, lt: 339, rt: 408, rx: 416 },
  { l1: "S phase", l2: "+MMS", lx: 511, lt: 571, rt: 639, rx: 645 },
];

function Arrowheads() {
  const defs: [string, string, number][] = [["k", "#222", 7], ["b", "#2f7fce", 7], ["bs", "#2f7fce", 5], ["rs", "#c8202c", 5], ["gs", "#23973f", 5]];
  return (
    <>
      {defs.map(([id, c, s]) => (
        <marker key={id} id={"ah" + id} viewBox="0 0 10 10" refX="8" refY="5" markerWidth={s} markerHeight={s} markerUnits="userSpaceOnUse" orient="auto">
          <path d="M0,0 L10,5 L0,10 z" fill={c} />
        </marker>
      ))}
      <linearGradient id="gradL" x1="0" x2="1" y1="0" y2="0">
        <stop offset="0" stopColor="#333" stopOpacity="1" />
        <stop offset="1" stopColor="#333" stopOpacity="0" />
      </linearGradient>
      <linearGradient id="gradR" x1="0" x2="1" y1="0" y2="0">
        <stop offset="0" stopColor="#333" stopOpacity="0" />
        <stop offset="1" stopColor="#333" stopOpacity="1" />
      </linearGradient>
    </>
  );
}

function Fan({ ox, xs, color, mk, fill, stroke }: any) {
  return (
    <g>
      {xs.map((x: number) => (
        <line key={"l" + x} x1={ox} y1={97} x2={x} y2={111} stroke={color} strokeWidth={1.1} markerEnd={`url(#ah${mk})`} />
      ))}
      {xs.map((x: number) => (
        <circle key={"c" + x} cx={x} cy={117} r={4.4} fill={fill} stroke={stroke} strokeWidth={1} />
      ))}
    </g>
  );
}

function Decor() {
  const legendDots = [
    { fill: "#5b6bbd", stroke: "#3949a0" },
    { fill: "#f47a7f", stroke: "#d9505a" },
    { fill: "#6dbb78", stroke: "#3f9a4e" },
    { fill: "#e3e3e3", stroke: "#d8d8d8" },
  ];
  const legendY = [35, 58, 81, 103];
  return (
    <svg width={708} height={735} style={{ position: "absolute", left: 0, top: 0, pointerEvents: "none" }} fontFamily={FONT}>
      <defs><Arrowheads /></defs>
      {/* Panel A */}
      <text x={5} y={13} fontWeight="bold" fontSize={14} fill="#111">A</text>
      <text x={74} y={21} textAnchor="middle" fontWeight="bold" fontSize={12.5} fill="#111">DNA Damage</text>
      <line x1={77} y1={26} x2={67} y2={39} stroke="#222" strokeWidth={1.3} markerEnd="url(#ahk)" />
      <line x1={77} y1={26} x2={87} y2={39} stroke="#222" strokeWidth={1.3} markerEnd="url(#ahk)" />
      <circle cx={56} cy={70} r={27} fill="#d7eaf7" />
      <circle cx={97} cy={70} r={27} fill="#d7eaf7" />
      <circle cx={56} cy={70} r={27} fill="none" stroke="#29a3e6" strokeWidth={2} />
      <circle cx={97} cy={70} r={27} fill="none" stroke="#29a3e6" strokeWidth={2} />
      <text x={37} y={76} fontSize={20} textLength={27} lengthAdjust="spacingAndGlyphs" fill="#111">Tel1</text>
      <text x={77} y={76} fontSize={20} textLength={43} lengthAdjust="spacingAndGlyphs" fill="#111">Mec1</text>
      <path d="M122 47 Q142 26 161 44" fill="none" stroke="#2f7fce" strokeWidth={1.5} markerEnd="url(#ahb)" />
      <circle cx={184} cy={70} r={26} fill="#f9c8ca" stroke="#ea5f68" strokeWidth={1.5} />
      <text x={162} y={76} fontSize={20} textLength={47} lengthAdjust="spacingAndGlyphs" fill="#111">Rad53</text>
      <text x={290} y={21} textAnchor="middle" fontWeight="bold" fontSize={12.5} fill="#111">Cell Cycle</text>
      <line x1={290} y1={26} x2={290} y2={40} stroke="#222" strokeWidth={1.3} markerEnd="url(#ahk)" />
      <circle cx={289} cy={70} r={26} fill="#d3eac4" stroke="#86c466" strokeWidth={1.5} />
      <text x={272} y={76} fontSize={20} textLength={35} lengthAdjust="spacingAndGlyphs" fill="#111">CDK</text>
      <Fan ox={75} xs={[47, 61, 75, 88, 101]} color="#2f7fce" mk="bs" fill="#5f6fc0" stroke="#3a4aa0" />
      <Fan ox={184} xs={[159, 173, 187, 200, 212]} color="#c8202c" mk="rs" fill="#f7a3a6" stroke="#e35a63" />
      <Fan ox={290} xs={[263, 277, 290, 303, 317]} color="#23973f" mk="gs" fill="#98cf8e" stroke="#3fa64a" />
      {/* Legend */}
      <line x1={342} y1={19} x2={704} y2={19} stroke="#666" strokeWidth={1.3} />
      <line x1={342} y1={119} x2={704} y2={119} stroke="#666" strokeWidth={1.3} />
      {LEGEND_LABELS.map((t, i) => (
        <g key={t}>
          <circle cx={356} cy={legendY[i]} r={5.3} fill={legendDots[i].fill} stroke={legendDots[i].stroke} strokeWidth={1} />
          <text x={367} y={legendY[i] + 4.5} fontSize={12.8} fill="#111">{t}</text>
        </g>
      ))}
      {/* Panel letters and headers */}
      {PANELS.map((p, i) => (
        <text key={p.id} x={[4, 257, 489][i]} y={159} fontWeight="bold" fontSize={14} fill="#111">{p.id}</text>
      ))}
      {HEADERS.map((h) => (
        <g key={h.cx}>
          <text x={h.cx} y={175.5} textAnchor="middle" fontSize={12.8} fill="#111"><tspan fontWeight="bold">Light:</tspan> {h.light}</text>
          <text x={h.cx} y={189} textAnchor="middle" fontSize={12.8} fill="#111"><tspan fontWeight="bold">Heavy:</tspan> {HEAVY_TEXT}</text>
          <text x={h.cx} y={211} textAnchor="middle" fontSize={13.8} fill="#111">{h.count}</text>
        </g>
      ))}
      <text transform="translate(19,300) rotate(-90)" textAnchor="middle" fontSize={17} fill="#333">{"\u2212Log (p-Value)"}</text>
      {/* violin row labels */}
      {VIOLIN_LABELS.map((lines, i) => {
        const c = [452, 490, 545, 599][i];
        return lines.map((t, j) => (
          <text key={t + i} x={68} y={c + 5.5 + (lines.length === 1 ? 0 : (j === 0 ? -8.5 : 9.5))} textAnchor="middle" fontWeight="bold" fontSize={15} fill={VSTYLE[i].label}>{t}</text>
        ));
      })}
      {/* enriched row */}
      <text x={14} y={640} fontWeight="bold" fontSize={14} fill="#111">Enriched in:</text>
      {ENRICH.map((e, i) => (
        <g key={i}>
          {i === 0 ? (
            <text x={e.lx} y={654} fontSize={13} fill="#111">{e.l1}</text>
          ) : (
            <>
              <text x={e.lx} y={642} fontSize={13} fill="#111">{e.l1}</text>
              <text x={e.lx} y={656} fontSize={13} fill="#111">{e.l2}</text>
            </>
          )}
          <text x={e.rx} y={642} fontSize={13} fill="#111">G1 arrest</text>
          <text x={e.rx} y={656} fontSize={13} fill="#111">+4NQO</text>
          <rect x={e.lt + 6} y={641.5} width={24} height={3} fill="url(#gradL)" />
          <path d={`M${e.lt} 643 L${e.lt + 8} 638.5 L${e.lt + 8} 647.5 Z`} fill="#333" />
          <rect x={e.rt - 30} y={641.5} width={24} height={3} fill="url(#gradR)" />
          <path d={`M${e.rt} 643 L${e.rt - 8} 638.5 L${e.rt - 8} 647.5 Z`} fill="#333" />
        </g>
      ))}
      {/* x titles */}
      <text x={140.5} y={699} textAnchor="middle" fontSize={16.5} fill="#888">Log2 (H/L Ratio)</text>
      <text x={374} y={699} textAnchor="middle" fontSize={16.5} fill="#888">Log2 (H/L Ratio)</text>
      <text x={606.5} y={693} textAnchor="middle" fontSize={16.5} fill="#888">Log2 (H/L Ratio)</text>
      {/* dataset bracket */}
      <path d="M22 713 Q24 723 34 723 L308 723 M428 723 L688 723 Q700 723 703 713" fill="none" stroke="#999" strokeWidth={1} />
      <text x={370} y={729} textAnchor="middle" fontSize={15} fill="#222">Dataset EV7</text>
    </svg>
  );
}

export default function App() {
  const vRefs = useRef<(HTMLCanvasElement | null)[]>([]);
  const wRefs = useRef<(HTMLCanvasElement | null)[]>([]);
  useEffect(() => {
    const charts: Chart[] = [];
    PANELS.forEach((p, i) => {
      const v = vRefs.current[i];
      const w = wRefs.current[i];
      if (v) charts.push(makeVolcano(v, p));
      if (w) charts.push(makeViolin(w, p));
    });
    return () => charts.forEach((c) => c.destroy());
  }, []);
  const volW = 32 + BOX_W + 10;
  const volH = 203;
  const vioW = BOX_W + 2 * V_PAD;
  const vioH = 281;
  return (
    <div style={{ position: "absolute", left: 0, top: 0, width: 708, height: 735, overflow: "hidden", background: "#fff" }}>
      {PANELS.map((p, i) => (
        <React.Fragment key={p.id}>
          <canvas
            ref={(el) => { vRefs.current[i] = el; }}
            width={volW}
            height={volH}
            style={{ position: "absolute", left: p.left - 32, top: 215, width: volW, height: volH }}
          />
          <canvas
            ref={(el) => { wRefs.current[i] = el; }}
            width={vioW}
            height={vioH}
            style={{ position: "absolute", left: p.left - V_PAD, top: 400, width: vioW, height: vioH }}
          />
        </React.Fragment>
      ))}
      <Decor />
    </div>
  );
}
